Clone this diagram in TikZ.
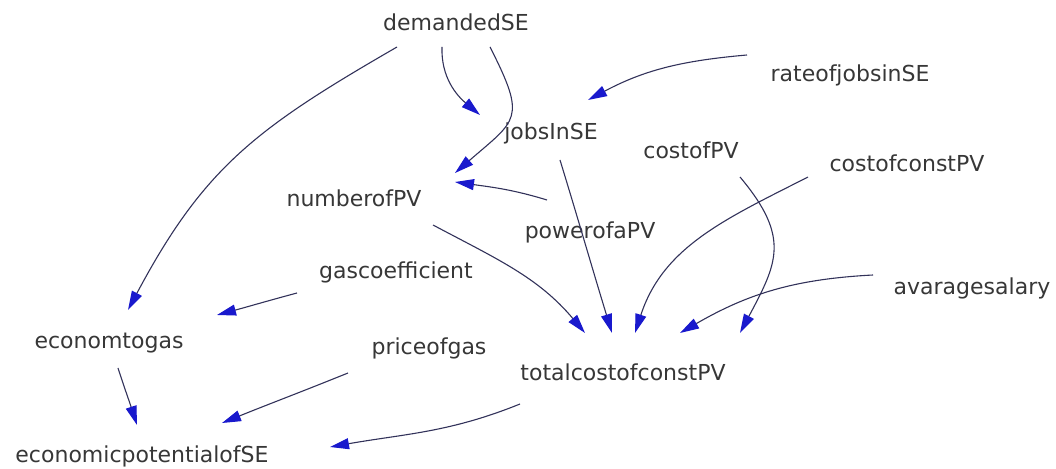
\documentclass[tikz,border=0pt]{standalone}
\usepackage{fontspec}
\setmainfont{DejaVu Sans}
\usetikzlibrary{arrows.meta}
\definecolor{linknavy}{RGB}{50,50,90}
\definecolor{tipblue}{RGB}{25,25,205}
\definecolor{labelgray}{RGB}{55,55,55}

\begin{document}
\begin{tikzpicture}[x=1pt,y=1pt,
  var/.style={font=\fontsize{22}{26}\selectfont,text=labelgray,inner sep=0pt},
  link/.style={draw=linknavy,line width=1.1pt,-{Triangle[length=19pt,width=11pt,color=tipblue]}}]
  \useasboundingbox (0,0) rectangle (1056,468);
  % variables
  \foreach \nm/\px/\py in {demandedSE/456/446,rateofjobsinSE/850/393,jobsInSE/551/335,
      costofPV/691/318,costofconstPV/907/305,numberofPV/354/270,powerofaPV/590/236,
      gascoefficient/396/196,avaragesalary/972/180,priceofgas/429/120,economtogas/109/125,
      totalcostofconstPV/623/96,economicpotentialofSE/142/12}
    \node[var] (\nm) at (\px,\py) {\nm};
  % links: source/offset/target/offset/out/in/looseness
  \foreach \na/\oa/\nb/\ob/\ang/\bng/\lo in {
      demandedSE/{-59,-25}/economtogas/{19,33}/210/62/1.1,
      demandedSE/{-14,-25}/jobsInSE/{-71,18}/268/140/1,
      demandedSE/{34,-25}/numberofPV/{101,25}/297/41/1.6,
      powerofaPV/{-43,32}/numberofPV/{101,16}/163/-8/1,
      rateofjobsinSE/{-103,20}/jobsInSE/{37,33}/185/28/1,
      jobsInSE/{9,-27}/totalcostofconstPV/{-11,39}/-73/107/1,
      numberofPV/{79,-27}/totalcostofconstPV/{-38,39}/-28/130/1,
      costofconstPV/{-99,-14}/totalcostofconstPV/{12,39}/207/72/1,
      costofPV/{49,-27}/totalcostofconstPV/{117,39}/310/62/1.3,
      avaragesalary/{-99,13}/totalcostofconstPV/{57,39}/183/30/1,
      gascoefficient/{-99,-21}/economtogas/{108,28}/195/15/1,
      economtogas/{9,-25}/economicpotentialofSE/{-5,31}/-72/108/1,
      priceofgas/{-81,-25}/economicpotentialofSE/{80,33}/202/22/1,
      totalcostofconstPV/{-103,-32}/economicpotentialofSE/{188,9}/202/10/1}
    \draw[link] ([shift={(\oa)}]\na.center) to[out=\ang,in=\bng,looseness=\lo] ([shift={(\ob)}]\nb.center);
\end{tikzpicture}
\end{document}
